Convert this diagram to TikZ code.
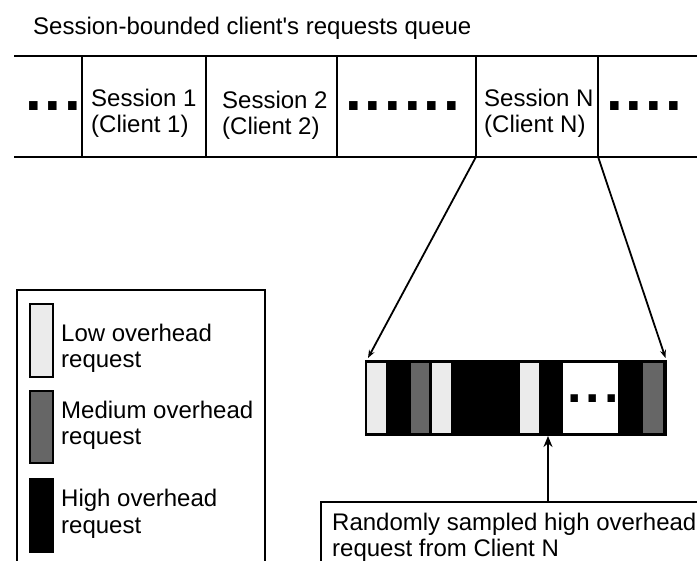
\documentclass[tikz,border=0pt]{standalone}
\usepackage{fontspec}
\setmainfont{Liberation Sans}[Ligatures=TeXOff]
\usetikzlibrary{arrows.meta,calc}
\definecolor{lowc}{HTML}{EBEBEB}
\definecolor{medc}{HTML}{666666}
\begin{document}
\begin{tikzpicture}[x=1pt,y=-1pt,
  txt/.style={font=\fontsize{24}{26}\selectfont, inner sep=0, anchor=base west},
  bigdots/.style={font=\fontsize{60}{60}\selectfont\bfseries, inner sep=0, anchor=base west},
  qline/.style={line width=2.2pt},
  boxline/.style={draw, line width=2pt, inner sep=0},
  arr/.style={line width=1.8pt, -{Stealth[length=8pt,width=6pt]}},
  arrup/.style={line width=2.4pt, -{Stealth[length=11pt,width=9pt]}},
  swatch/.style={draw, line width=1.2pt}]
\useasboundingbox (0,0) rectangle (697,561);
\clip (0,0) rectangle (697,561);
\fill[white] (0,0) rectangle (697,561);

% title
\node[txt] (title) at (33,35) {Session-bounded client's requests queue};

% queue
\draw[qline] (14,56) -- (700,56);
\draw[qline] (14,157) -- (700,157);
\foreach \x in {82,206,337,476,598} \draw[qline] (\x,56) -- (\x,157);
\node[inner sep=0, minimum width=122pt, minimum height=101pt] (sN) at (537,106.5) {};

\node[bigdots] (d1) at (25,111) {.\kern3pt.\kern3pt.};
\node[bigdots] (d2) at (345,111) {.\kern3pt.\kern3pt.\kern3pt.\kern3pt.\kern3pt.};
\node[bigdots] (d3) at (606,111) {.\kern3pt.\kern3pt.\kern3pt.};

\node[txt] (s1a) at (91,107) {Session 1};
\node[txt] (s1b) at (91,133) {(Client 1)};
\node[txt] (s2a) at (222,109) {Session 2};
\node[txt] (s2b) at (222,135) {(Client 2)};
\node[txt] (sNa) at (484,107) {Session N};
\node[txt] (sNb) at (484,133) {(Client N)};

% sampled bar
\node[draw, fill=black, line width=1.5pt, anchor=north west, minimum width=300pt, minimum height=75pt, inner sep=0] (bar) at (365,360) {};
\fill[lowc] (367,363) rectangle (386,433);
\fill[medc] (411,363) rectangle (429,433);
\fill[lowc] (432,363) rectangle (451,433);
\fill[lowc] (520,363) rectangle (539,433);
\fill[white] (563,363) rectangle (618,433);
\fill[medc] (643,363) rectangle (663,433);
\node[font=\fontsize{52}{52}\selectfont\bfseries, inner sep=0, anchor=base west] (d4) at (567,403) {.\kern4pt.\kern4pt.};

\draw[arr] (sN.south west) -- ($(bar.north west)+(3,-2)$);
\draw[arr] (sN.south east) -- ($(bar.north east)+(-1,-2)$);

% legend
\node[boxline, anchor=north west, minimum width=248pt, minimum height=320pt] (legend) at (16,289) {};
\draw[swatch, fill=lowc] (30,304) rectangle (53,377);
\draw[swatch, fill=medc] (30,391) rectangle (53,463);
\draw[swatch, fill=black] (30,479) rectangle (53,552);
\node[txt] (l1a) at (61,342) {Low overhead};
\node[txt] (l1b) at (61,368) {request};
\node[txt] (l2a) at (61,419) {Medium overhead};
\node[txt] (l2b) at (61,445) {request};
\node[txt] (l3a) at (61,507) {High overhead};
\node[txt] (l3b) at (61,533) {request};

% sampled request text box
\node[boxline, anchor=north west, minimum width=420pt, minimum height=120pt] (tb) at (320,501) {};
\node[txt] (t1) at (332,531) {Randomly sampled high overhead};
\node[txt] (t2) at (332,557) {request from Client N};
\coordinate (pick) at (548,436);
\draw[arrup] (pick |- tb.north) -- (pick);
\end{tikzpicture}
\end{document}
